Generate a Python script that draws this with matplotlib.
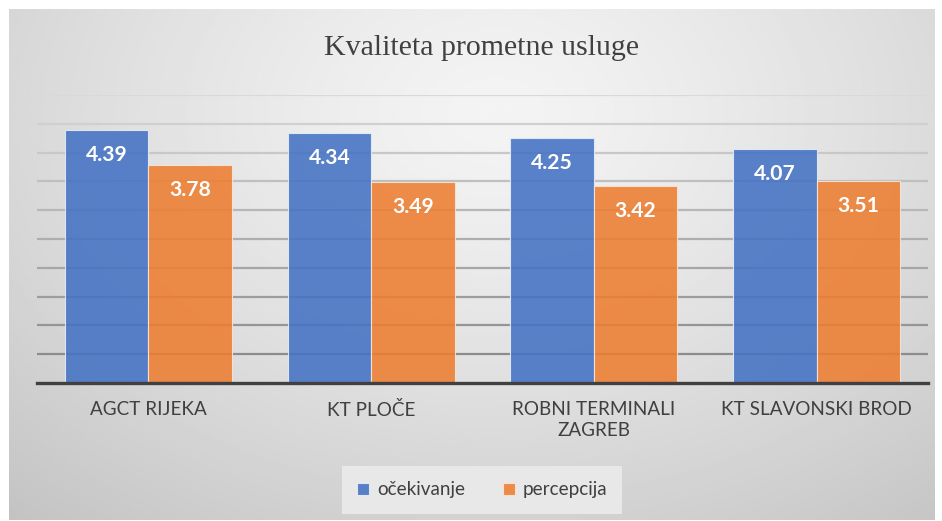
import numpy as np
import matplotlib.pyplot as plt

categories = ['AGCT RIJEKA', 'KT PLOČE', 'ROBNI TERMINALI\nZAGREB', 'KT SLAVONSKI BROD']
ocekivanje = [4.39, 4.34, 4.25, 4.07]
percepcija = [3.78, 3.49, 3.42, 3.51]
series_names = ['očekivanje', 'percepcija']

W, H = 942, 521
fig = plt.figure(figsize=(W / 100, H / 100), dpi=100)
fig.patch.set_facecolor('white')

# chart area background (radial grey gradient)
bg = fig.add_axes([9 / W, 1 / H, (935 - 9) / W, (512 - 1) / H])
yy, xx = np.mgrid[0:200, 0:400]
cx, cy = 210, 40
r = np.sqrt(((xx - cx) / 400) ** 2 + ((yy - cy) / 260) ** 2)
r = r / r.max()
val = 0.955 - 0.19 * r ** 1.3
bg.imshow(val, cmap='gray', vmin=0, vmax=1, aspect='auto', extent=[0, 1, 0, 1], origin='upper')
bg.set_axis_off()

ax = fig.add_axes([37 / W, (521 - 383) / H, (928 - 37) / W, (383 - 95) / H])
ax.patch.set_alpha(0)

x = np.arange(len(categories))
w = 0.375

# gridlines, lighter towards the top
grid_vals = np.arange(0.5, 5.01, 0.5)
for i, g in enumerate(grid_vals):
    t = i / (len(grid_vals) - 1)
    c = 0.55 + 0.30 * t
    ax.axhline(g, color=(c, c, c), lw=1.6, zorder=1)

b1 = ax.bar(x - w / 2, ocekivanje, w, color='#4472c4', alpha=0.88,
            edgecolor='#e8eef8', linewidth=0.8, zorder=2, label=series_names[0])
b2 = ax.bar(x + w / 2, percepcija, w, color='#ed7d31', alpha=0.88,
            edgecolor='#f8e6da', linewidth=0.8, zorder=2, label=series_names[1])

for bars, vals in ((b1, ocekivanje), (b2, percepcija)):
    for rect, v in zip(bars, vals):
        ax.annotate(f'{v:.2f}', (rect.get_x() + rect.get_width() / 2, v),
                    xytext=(0, -18), textcoords='offset points',
                    ha='center', va='center', color='white',
                    fontsize=15.2, fontweight='bold', family='Lato', zorder=3)

ax.set_xlim(-0.5, 3.5)
ax.set_ylim(0, 5)
ax.set_yticks([])
ax.set_xticks(x)
ax.set_xticklabels(categories, family='Lato', fontsize=13.6, color='#404040',
                   linespacing=1.3)
ax.tick_params(axis='x', length=0, pad=13)
for s in ['top', 'right', 'left']:
    ax.spines[s].set_visible(False)
ax.spines['bottom'].set_color('#404040')
ax.spines['bottom'].set_linewidth(2.4)
ax.spines['bottom'].set_zorder(4)

fig.text(481 / W, 1 - 48 / H, 'Kvaliteta prometne usluge', ha='center', va='center',
         family='Liberation Serif', fontsize=21.5, color='#404040')

leg = fig.legend(handles=[b1, b2], loc='center', bbox_to_anchor=(482 / W, 1 - 490 / H),
                 ncol=2, frameon=True, fancybox=False, prop={'family': 'Lato', 'size': 13.6},
                 handlelength=0.65, handleheight=0.65, handletextpad=0.4,
                 columnspacing=2.0, borderpad=0.8, borderaxespad=0, labelcolor='#404040')
leg.get_frame().set_facecolor('#ebebeb')
leg.get_frame().set_edgecolor('none')
leg.get_frame().set_alpha(0.9)

fig.savefig('out.png', dpi=100)
